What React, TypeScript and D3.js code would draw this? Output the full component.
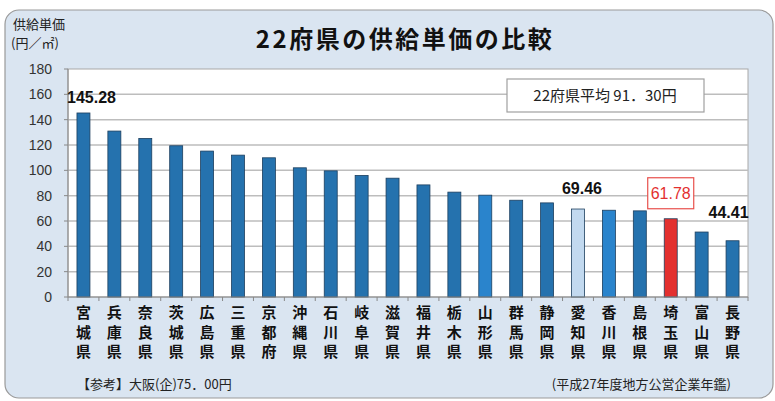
import React from 'react';
import * as d3 from 'd3';

// 22府県の供給単価 (円/㎡)
const categories = [
  '宮城県', '兵庫県', '奈良県', '茨城県', '広島県', '三重県', '京都府', '沖縄県',
  '石川県', '岐阜県', '滋賀県', '福井県', '栃木県', '山形県', '群馬県', '静岡県',
  '愛知県', '香川県', '島根県', '埼玉県', '富山県', '長野県',
];
const values = [
  145.28, 131.0, 125.2, 119.4, 115.2, 112.0, 109.9, 102.0,
  99.6, 96.0, 93.8, 88.5, 82.8, 80.4, 76.4, 74.3,
  69.46, 68.5, 68.0, 61.78, 51.3, 44.41,
];
const yTicks = [0, 20, 40, 60, 80, 100, 120, 140, 160, 180];
const labelled = ['宮城県', '愛知県', '長野県'];
const highlighted = '埼玉県';
const brighter = ['山形県', '香川県'];
const lighter = ['愛知県'];

const title = '22府県の供給単価の比較';
const averageText = '22府県平均 91．30円';
const noteLeft = '【参考】大阪(企)75．00円';
const noteRight = '(平成27年度地方公営企業年鑑)';

const JP = '"Noto Sans CJK JP", "Noto Sans", sans-serif';
const NUM = '"Liberation Sans", Arial, sans-serif';

const App: React.FC = () => {
  const width = 775;
  const height = 401;
  const plot = { left: 68, right: 748, top: 69, bottom: 297 };

  const x = d3.scaleBand<string>()
    .domain(categories)
    .range([plot.left, plot.right])
    .paddingInner(0.58)
    .paddingOuter(0.29);
  const y = d3.scaleLinear().domain([0, 180]).range([plot.bottom, plot.top]);
  const step = x.step();

  const colorFor = (name: string) => {
    if (name === highlighted) return '#e3302f';
    if (lighter.includes(name)) return '#c2d9ef';
    if (brighter.includes(name)) return '#2a84cc';
    return '#2572ae';
  };

  const labelOffset: Record<string, [number, number]> = {
    '宮城県': [8, -10],
    '愛知県': [4, -15],
    '長野県': [-4, -23],
  };

  return (
    <svg width={width} height={height}
      style={{ position: 'absolute', left: 0, top: 0, background: '#fff' }}>
      {/* outer panel */}
      <rect x={5} y={10} width={768} height={388} rx={14}
        fill="#dae5f1" stroke="#9a9a9a" strokeWidth={1.2} />

      {/* title */}
      <text x={405} y={48} textAnchor="middle" fontFamily={JP} fontWeight="bold"
        fontSize={24} letterSpacing={2.5} fill="#111">{title}</text>

      {/* y axis title */}
      <text x={13} y={29} fontFamily={JP} fontSize={13} fill="#222">供給単価</text>
      <text x={11} y={48} fontFamily={JP} fontSize={13} fill="#222">(円／㎡)</text>

      {/* plot area */}
      <rect x={plot.left} y={plot.top} width={plot.right - plot.left}
        height={plot.bottom - plot.top} fill="#fff" stroke="#a8a8a8" strokeWidth={1} />

      {/* grid lines */}
      {yTicks.filter(t => t > 0 && t < 180).map(t => (
        <line key={t} x1={plot.left} x2={plot.right} y1={y(t)} y2={y(t)}
          stroke="#bdbdbd" strokeWidth={1.5} />
      ))}

      {/* y axis */}
      <line x1={plot.left} x2={plot.left} y1={plot.top} y2={plot.bottom} stroke="#888" />
      {yTicks.map(t => (
        <g key={t}>
          <line x1={plot.left - 4} x2={plot.left} y1={y(t)} y2={y(t)} stroke="#888" />
          <text x={52} y={y(t)} dy="0.35em" textAnchor="end" fontFamily={NUM}
            fontSize={14} fill="#333">{t}</text>
        </g>
      ))}

      {/* bars */}
      {categories.map((c, i) => (
        <rect key={c} x={x(c)} y={y(values[i])} width={x.bandwidth()}
          height={plot.bottom - y(values[i])} fill={colorFor(c)}
          stroke="#1d3f5e" strokeWidth={0.8} />
      ))}

      {/* x axis */}
      <line x1={plot.left} x2={plot.right} y1={plot.bottom} y2={plot.bottom} stroke="#888" />
      {d3.range(categories.length + 1).map(i => (
        <line key={i} x1={plot.left + step * i} x2={plot.left + step * i}
          y1={plot.bottom} y2={plot.bottom + 4} stroke="#888" />
      ))}
      {categories.map(c => (
        <text key={c} x={(x(c) ?? 0) + x.bandwidth() / 2} y={318} textAnchor="middle"
          fontFamily={JP} fontWeight="bold" fontSize={15} fill="#111">
          {c.split('').map((ch, j) => (
            <tspan key={j} x={(x(c) ?? 0) + x.bandwidth() / 2} dy={j === 0 ? 0 : 19.5}>{ch}</tspan>
          ))}
        </text>
      ))}

      {/* value labels */}
      {labelled.map(c => {
        const i = categories.indexOf(c);
        const [dx, dy] = labelOffset[c];
        return (
          <text key={c} x={(x(c) ?? 0) + x.bandwidth() / 2 + dx} y={y(values[i]) + dy}
            textAnchor="middle" fontFamily={NUM} fontWeight="bold" fontSize={16}
            fill="#111">{values[i].toFixed(2)}</text>
        );
      })}

      {/* highlighted label */}
      {(() => {
        const i = categories.indexOf(highlighted);
        const cx = (x(highlighted) ?? 0) + x.bandwidth() / 2;
        const top = y(values[i]);
        return (
          <g>
            <rect x={cx - 23} y={top - 41} width={46} height={31} fill="#fff"
              stroke="#e8504c" strokeWidth={1.2} />
            <text x={cx} y={top - 25} dy="0.35em" textAnchor="middle" fontFamily={NUM}
              fontSize={16} fill="#e3302f">{values[i].toFixed(2)}</text>
          </g>
        );
      })()}

      {/* average box */}
      <rect x={507} y={79} width={197} height={33} fill="#fff" stroke="#a0a0a0" strokeWidth={1.2} />
      <text x={605} y={96} dy="0.35em" textAnchor="middle" fontFamily={JP} fontSize={15}
        fill="#222">{averageText}</text>

      {/* notes */}
      <text x={77} y={389} fontFamily={JP} fontSize={13} fill="#222">{noteLeft}</text>
      <text x={731} y={389} textAnchor="end" fontFamily={JP} fontSize={13} fill="#222">{noteRight}</text>
    </svg>
  );
};

export default App;
